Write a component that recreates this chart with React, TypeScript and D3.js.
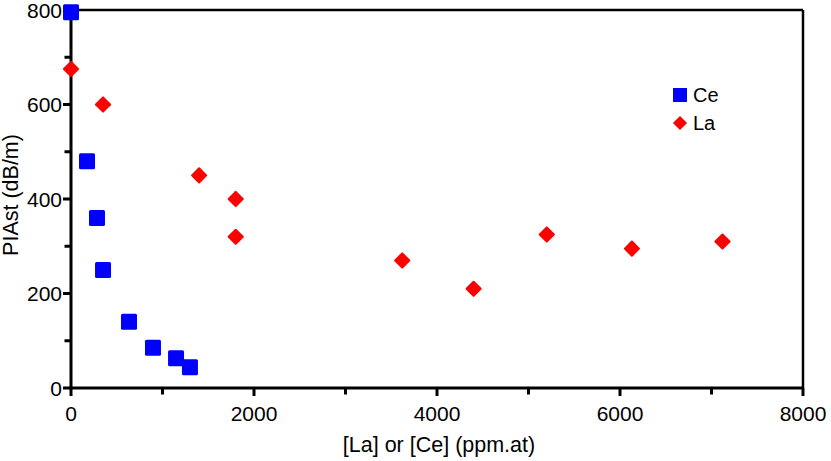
import React from "react";
import * as d3 from "d3";

const ceX = [0, 175, 284, 350, 634, 896, 1148, 1300];
const ceY = [795, 480, 360, 250, 140, 85, 63, 44];
const laX = [0, 350, 1400, 1800, 1800, 3620, 4400, 5200, 6130, 7120];
const laY = [675, 600, 450, 400, 320, 270, 210, 325, 295, 310];
const xTicks = [0, 2000, 4000, 6000, 8000];
const xMinor = [1000, 3000, 5000, 7000];
const yTicks = [0, 200, 400, 600, 800];
const yMinor = [100, 300, 500, 700];
const seriesNames = ["Ce", "La"];

const W = 831, H = 461;
const left = 71, right = 803, top = 10, bottom = 388;
const font = "Liberation Sans, Arial, Helvetica, sans-serif";

export default function App() {
  const x = d3.scaleLinear().domain([0, 8000]).range([left, right]);
  const y = d3.scaleLinear().domain([0, 800]).range([bottom, top]);
  const sq = 16;
  const dm = 12;
  return (
    <svg width={W} height={H} style={{ position: "absolute", left: 0, top: 0, background: "#fff" }} fontFamily={font}>
      <rect x={0} y={0} width={W} height={H} fill="#fff" />
      {/* frame */}
      <line x1={left} x2={right} y1={top} y2={top} stroke="#000" strokeWidth={2.5} />
      <line x1={right} x2={right} y1={top} y2={bottom} stroke="#000" strokeWidth={2.5} />
      <line x1={left} x2={left} y1={top - 1} y2={bottom + 1.5} stroke="#000" strokeWidth={3} />
      <line x1={left - 1.5} x2={right + 1} y1={bottom} y2={bottom} stroke="#000" strokeWidth={3} />
      {/* x ticks */}
      {xTicks.map((t) => (
        <g key={"xt" + t}>
          <line x1={x(t)} x2={x(t)} y1={bottom} y2={bottom + 8} stroke="#000" strokeWidth={3} />
          <text x={x(t)} y={421} fontSize={21} textAnchor="middle" fill="#000">{t}</text>
        </g>
      ))}
      {xMinor.map((t) => (
        <line key={"xm" + t} x1={x(t)} x2={x(t)} y1={bottom} y2={bottom + 6.5} stroke="#000" strokeWidth={3} />
      ))}
      {/* y ticks */}
      {yTicks.map((t) => (
        <g key={"yt" + t}>
          <line x1={left - 8} x2={left} y1={y(t)} y2={y(t)} stroke="#000" strokeWidth={3} />
          <text x={62} y={y(t) + 7.5} fontSize={21} textAnchor="end" fill="#000">{t}</text>
        </g>
      ))}
      {yMinor.map((t) => (
        <line key={"ym" + t} x1={left - 6.5} x2={left} y1={y(t)} y2={y(t)} stroke="#000" strokeWidth={3} />
      ))}
      {/* axis labels */}
      <text x={439} y={452} fontSize={21.5} textAnchor="middle" fill="#000">[La] or [Ce] (ppm.at)</text>
      <text transform={`translate(18, 195) rotate(-90)`} fontSize={21.5} textAnchor="middle" fill="#000">PIAst (dB/m)</text>
      {/* La diamonds */}
      {laX.map((v, i) => (
        <rect key={"la" + i} x={-dm / 2} y={-dm / 2} width={dm} height={dm} rx={1} fill="#ff0000"
          transform={`translate(${x(v)}, ${y(laY[i])}) rotate(45)`} />
      ))}
      {/* Ce squares */}
      {ceX.map((v, i) => (
        <rect key={"ce" + i} x={x(v) - sq / 2} y={y(ceY[i]) - sq / 2} width={sq} height={sq} rx={1.5} fill="#0000ff" />
      ))}
      {/* legend */}
      <rect x={673} y={88} width={14} height={14} fill="#0000ff" />
      <text x={693} y={102} fontSize={20} fill="#000">{seriesNames[0]}</text>
      <rect x={-5} y={-5} width={10} height={10} fill="#ff0000" transform="translate(680, 123) rotate(45)" />
      <text x={693} y={130} fontSize={20} fill="#000">{seriesNames[1]}</text>
    </svg>
  );
}
